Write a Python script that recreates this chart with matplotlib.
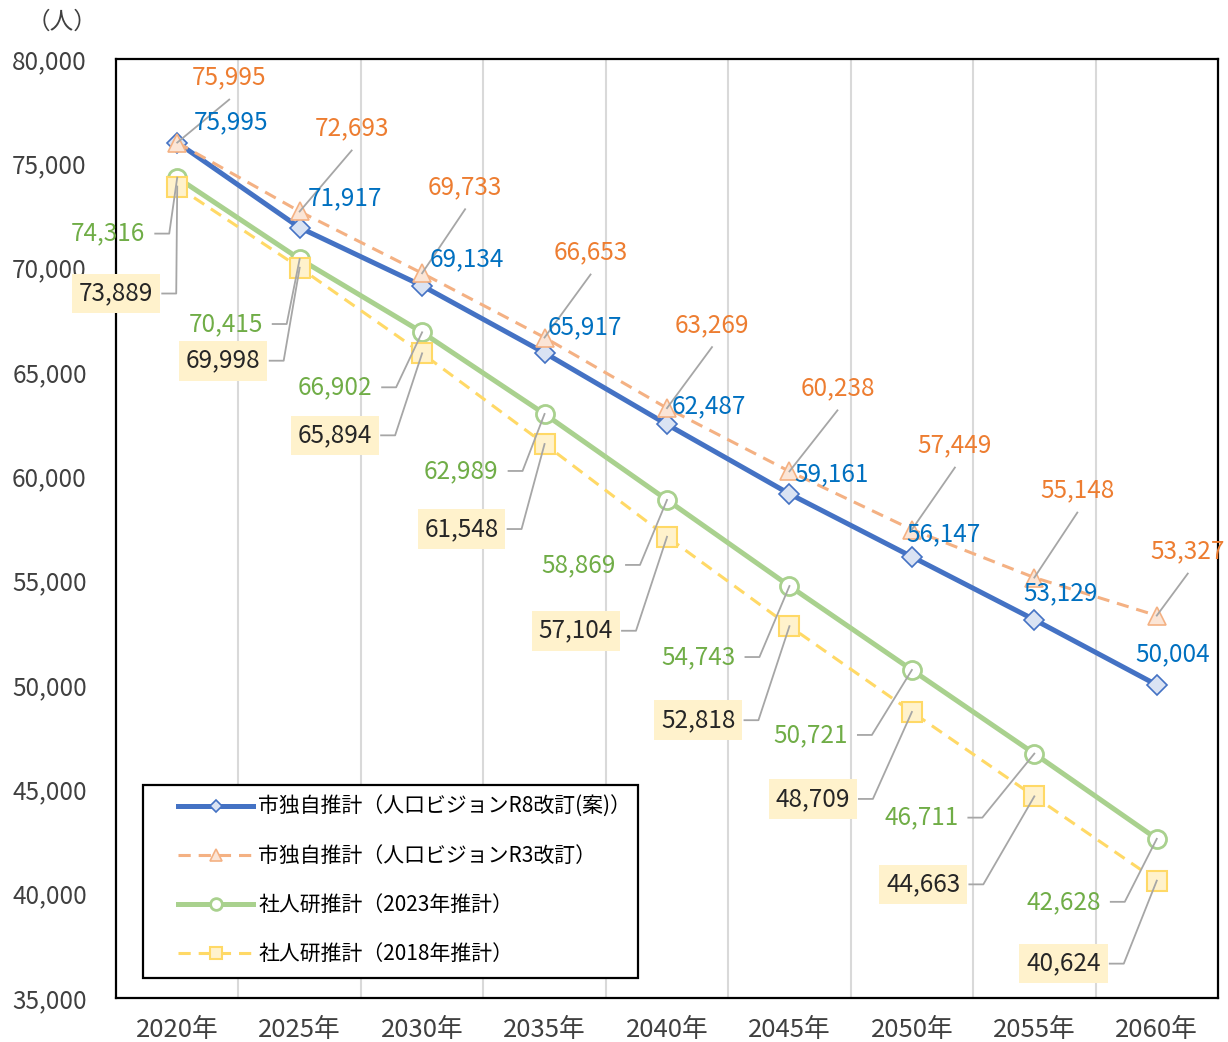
import matplotlib
matplotlib.use('Agg')
import matplotlib.pyplot as plt
from matplotlib.patches import Rectangle
from matplotlib.ticker import FuncFormatter
import numpy as np

plt.rcParams['font.family'] = ['Noto Sans CJK JP', 'DejaVu Sans']

years = ['2020年', '2025年', '2030年', '2035年', '2040年', '2045年', '2050年', '2055年', '2060年']
r8 = [75995, 71917, 69134, 65917, 62487, 59161, 56147, 53129, 50004]
r3 = [75995, 72693, 69733, 66653, 63269, 60238, 57449, 55148, 53327]
ipss2023 = [74316, 70415, 66902, 62989, 58869, 54743, 50721, 46711, 42628]
ipss2018 = [73889, 69998, 65894, 61548, 57104, 52818, 48709, 44663, 40624]

names = ['市独自推計（人口ビジョンR8改訂(案)）', '市独自推計（人口ビジョンR3改訂）',
         '社人研推計（2023年推計）', '社人研推計（2018年推計）']

# label offsets in pixels (dx right, dy down) from the point
off_r8 = [(54, -20), (45, -29), (45, -26), (40, -26), (42, -18), (42, -20), (32, -22), (26, -26), (16, -31)]
off_r3 = [(52, -65), (52, -83), (43, -86), (46, -85), (45, -83), (48, -83), (43, -84), (43, -87), (31, -64)]
# right edge of text for the left-side labels
off_23 = [(-32, 56), (-37, 65), (-50, 55), (-46, 57), (-51, 65), (-54, 71), (-64, 65), (-76, 64), (-56, 63)]
off_18 = [(-24, 107), (-39, 93), (-50, 82), (-46, 85), (-54, 94), (-54, 94), (-62, 87), (-74, 88), (-56, 83)]

c_blue, c_orange, c_green, c_yellow = '#4472C4', '#F4B183', '#A9D18E', '#FFD966'
lead = '#A6A6A6'

fig = plt.figure(figsize=(12.28, 10.42), dpi=100)
ax = fig.add_axes([116 / 1228, 1 - 998 / 1042, 1102 / 1228, 939 / 1042])

x = np.arange(len(years))
ax.set_xlim(-0.5, len(years) - 0.5)
ax.set_ylim(35000, 80000)
ax.set_yticks(np.arange(35000, 80001, 5000))
ax.yaxis.set_major_formatter(FuncFormatter(lambda v, p: f'{int(v):,}'))
ax.set_xticks(x)
ax.set_xticklabels(years)
ax.tick_params(length=0, labelsize=17.5, colors='#404040')
ax.tick_params(axis='y', pad=21)
ax.tick_params(axis='x', pad=14, labelsize=18.5)
for s in ax.spines.values():
    s.set_linewidth(1.6)
    s.set_color('black')
for g in x[:-1] + 0.5:
    ax.axvline(g, color='#D9D9D9', lw=1.5, zorder=0)

ax.plot(x, r8, color=c_blue, lw=3.6, marker='D', ms=10, mfc='#DAE3F3', mec=c_blue, mew=1.2,
        label=names[0], zorder=3)
ax.plot(x, r3, color=c_orange, lw=2.2, dashes=(4, 2.6), marker='^', ms=13, mfc='#FBE5D6',
        mec=c_orange, mew=1.2, label=names[1], zorder=4)
ax.plot(x, ipss2023, color=c_green, lw=3.6, marker='o', ms=13, mfc='white', mec=c_green,
        mew=2, label=names[2], zorder=3)
ax.plot(x, ipss2018, color=c_yellow, lw=2.2, dashes=(4, 2.6), marker='s', ms=14, mfc='#FFF2CC',
        mec=c_yellow, mew=1.5, label=names[3], zorder=4)


def pix(i, v, dx, dy):
    px, py = ax.transData.transform((i, v))
    return ax.transData.inverted().transform((px + dx, py - dy))


def leader(i, v, pts):
    xy = [pix(i, v, dx, dy) for dx, dy in pts]
    xy.append((i, v))
    xy = np.array(xy)
    ax.plot(xy[:, 0], xy[:, 1], color=lead, lw=1.3, zorder=6, clip_on=False)


fs = 17.5
for i, v in enumerate(r8):
    dx, dy = off_r8[i]
    ax.annotate(f'{v:,}', (i, v), xytext=(dx, -dy), textcoords='offset pixels',
                ha='center', va='center', color='#0070C0', fontsize=fs, zorder=7,
                annotation_clip=False)

for i, v in enumerate(r3):
    dx, dy = off_r3[i]
    ax.annotate(f'{v:,}', (i, v), xytext=(dx, -dy), textcoords='offset pixels',
                ha='center', va='center', color='#ED7D31', fontsize=fs, zorder=7,
                annotation_clip=False)
    leader(i, v, [(dx, dy + 22)])

for i, v in enumerate(ipss2023):
    dx, dy = off_23[i]
    ax.annotate(f'{v:,}', (i, v), xytext=(dx, -dy), textcoords='offset pixels',
                ha='right', va='center', color='#70AD47', fontsize=fs, zorder=7,
                annotation_clip=False)
    leader(i, v, [(dx + 10, dy), (dx + 24, dy)])

for i, v in enumerate(ipss2018):
    dx, dy = off_18[i]
    ax.annotate(f'{v:,}', (i, v), xytext=(dx, -dy), textcoords='offset pixels',
                ha='right', va='center', color='#262626', fontsize=fs, zorder=7,
                annotation_clip=False,
                bbox=dict(boxstyle='square,pad=0.28', fc='#FFF2CC', ec='none'))
    leader(i, v, [(dx + 9, dy), (dx + 23, dy)])

# legend frame drawn separately so the entries can sit inset like the original
ax.add_patch(Rectangle((27 / 1102, 20 / 939), 495 / 1102, 193 / 939, transform=ax.transAxes,
                       fc='white', ec='black', lw=1.6, zorder=8))
leg = ax.legend(loc='upper left', bbox_to_anchor=(62 / 1102, 202 / 939), fontsize=15,
                handlelength=3.6, handletextpad=0.25, labelspacing=1.3, borderpad=0,
                borderaxespad=0, markerscale=0.65, frameon=False)
leg.set_zorder(9)

fig.text(62 / 1228, 1 - 22 / 1042, '（人）', ha='center', va='center', fontsize=17, color='#404040')

fig.savefig('out.png', dpi=100)
